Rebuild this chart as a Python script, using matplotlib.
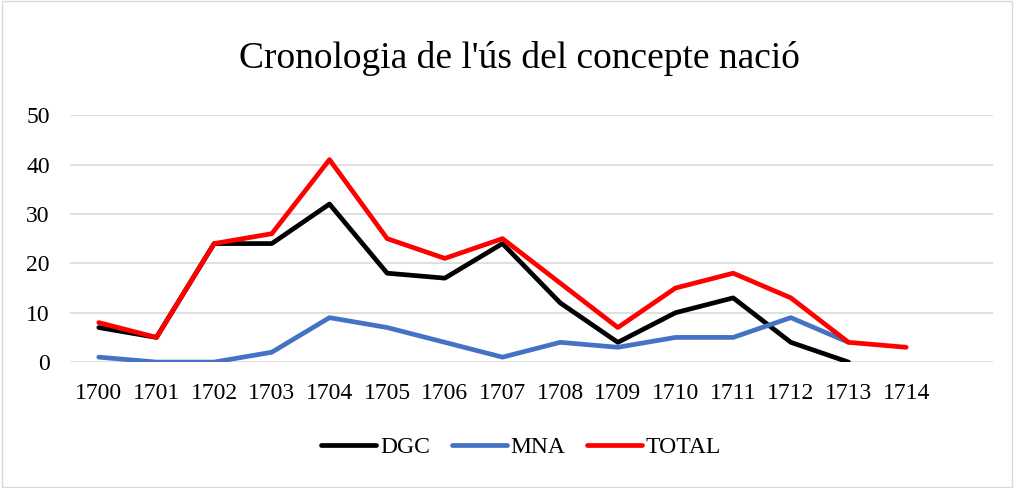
import numpy as np
import matplotlib.pyplot as plt
from matplotlib.patches import Rectangle

plt.rcParams['font.family'] = ['Liberation Serif', 'DejaVu Serif']

years = ['1700', '1701', '1702', '1703', '1704', '1705', '1706', '1707',
         '1708', '1709', '1710', '1711', '1712', '1713', '1714']
dgc = [7, 5, 24, 24, 32, 18, 17, 24, 12, 4, 10, 13, 4, 0]
mna = [1, 0, 0, 2, 9, 7, 4, 1, 4, 3, 5, 5, 9, 4]
total = [8, 5, 24, 26, 41, 25, 21, 25, 16, 7, 15, 18, 13, 4, 3]

fig = plt.figure(figsize=(10.14, 4.88), dpi=100)
ax = fig.add_axes([0.069, 0.258, 0.910, 0.506])

for vals, col, lab in [(dgc, 'black', 'DGC'), (mna, '#4472c4', 'MNA'), (total, 'red', 'TOTAL')]:
    ax.plot(np.arange(len(vals)), vals, color=col, lw=3.4, label=lab,
            solid_capstyle='round', solid_joinstyle='round')

ax.set_xlim(-0.5, 15.5)
ax.set_ylim(0, 50)
ax.set_yticks(range(0, 51, 10))
ax.set_xticks(range(len(years)))
ax.set_xticklabels(years)
ax.tick_params(length=0, labelsize=17)
ax.tick_params(axis='x', pad=15)
ax.tick_params(axis='y', pad=14.5)
ax.grid(axis='y', color='#d9d9d9', lw=1.2)
ax.set_axisbelow(True)
for s in ax.spines.values():
    s.set_visible(False)

fig.text(0.512, 0.881, "Cronologia de l'ús del concepte nació",
         ha='center', va='center', fontsize=27)

fig.legend(loc='center', bbox_to_anchor=(0.514, 0.084), ncol=3, frameon=False,
           fontsize=17, handlelength=2.33, columnspacing=0.93, handletextpad=0.15)

fig.patches.append(Rectangle((0.002, 0.003), 0.996, 0.994, transform=fig.transFigure,
                             fill=False, edgecolor='#d9d9d9', lw=1))

fig.savefig('out.png', dpi=100)
